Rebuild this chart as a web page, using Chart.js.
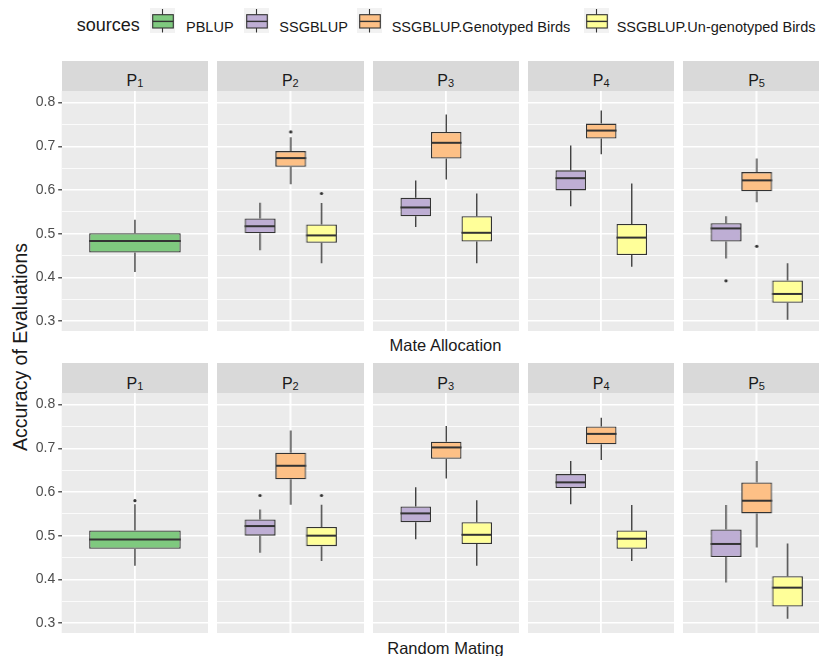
<!DOCTYPE html>
<html>
<head>
<meta charset="utf-8">
<script src="https://cdn.jsdelivr.net/npm/chart.js@4.4.1/dist/chart.umd.min.js"></script>
<style>
    body { margin: 0; width: 819px; height: 656px; overflow: hidden; background: #fff; position: relative;
           font-family: "Liberation Sans", Arial, sans-serif; color: #1a1a1a; }
    .panel { position: absolute; }
    .strip { position: absolute; background: #d9d9d9; }
    .strip span.lab { position: absolute; left: 0; right: 0; text-align: center; font-size: 16px; line-height: 16px; top: 12.5px; }
    .strip sub { font-size: 11px; vertical-align: baseline; position: relative; top: 1px; }
    .rowtitle { position: absolute; left: 0; width: 891px; text-align: center; font-size: 16.5px; line-height: 18px; }
    #ytitle { position: absolute; left: 20px; top: 347px; font-size: 19.5px; white-space: nowrap;
              transform: translate(-50%, -50%) rotate(-90deg); }
    .lg { position: absolute; white-space: nowrap; }
    .lg.txt { top: 16.5px; height: 20px; line-height: 20px; font-size: 14.5px; }
    .lg.key { top: 8.3px; }
</style>
</head>
<body>
<div class="lg" style="left:76.7px;top:15.3px;line-height:20px;font-size:18px">sources</div>
<div id="ytitle">Accuracy of Evaluations</div>
<div class="rowtitle" style="top:336px">Mate Allocation</div>
<div class="rowtitle" style="top:639px">Random Mating</div>
<script>
Chart.defaults.font.family = '"Liberation Sans", Arial, sans-serif';

const sources = ['PBLUP', 'SSGBLUP', 'SSGBLUP.Genotyped Birds', 'SSGBLUP.Un-genotyped Birds'];
const sourceColors = ['#7FC97F', '#BEAED4', '#FDC086', '#FFFF99'];
const panelNums = ['1', '2', '3', '4', '5'];
const rowNames = ['Mate Allocation', 'Random Mating'];
const yTicks = [0.3, 0.35, 0.4, 0.45, 0.5, 0.55, 0.6, 0.65, 0.7, 0.75, 0.8];
const yMin = 0.2765, yMax = 0.8266;

// [min, q1, median, q3, max] per panel P1..P5, null where the source is absent
const matePBLUP   = [[0.412, 0.457, 0.483, 0.501, 0.532], null, null, null, null];
const mateSSGBLUP = [null, [0.462, 0.501, 0.517, 0.535, 0.571], [0.515, 0.540, 0.560, 0.582, 0.622],
                     [0.563, 0.599, 0.627, 0.645, 0.702], [0.443, 0.482, 0.512, 0.524, 0.540]];
const mateGeno    = [null, [0.613, 0.653, 0.673, 0.689, 0.721], [0.624, 0.672, 0.708, 0.733, 0.773],
                     [0.682, 0.718, 0.736, 0.752, 0.782], [0.572, 0.597, 0.622, 0.641, 0.672]];
const mateUngeno  = [null, [0.432, 0.479, 0.496, 0.521, 0.570], [0.432, 0.482, 0.502, 0.540, 0.592],
                     [0.424, 0.451, 0.491, 0.522, 0.615], [0.303, 0.342, 0.362, 0.393, 0.432]];

const randPBLUP   = [[0.431, 0.470, 0.491, 0.512, 0.572], null, null, null, null];
const randSSGBLUP = [null, [0.461, 0.500, 0.522, 0.537, 0.560], [0.492, 0.531, 0.551, 0.567, 0.611],
                     [0.572, 0.609, 0.622, 0.641, 0.671], [0.393, 0.451, 0.481, 0.514, 0.570]];
const randGeno    = [null, [0.571, 0.629, 0.660, 0.690, 0.741], [0.631, 0.676, 0.702, 0.715, 0.751],
                     [0.673, 0.709, 0.733, 0.750, 0.770], [0.473, 0.551, 0.580, 0.622, 0.671]];
const randUngeno  = [null, [0.442, 0.476, 0.500, 0.520, 0.571], [0.431, 0.481, 0.502, 0.531, 0.581],
                     [0.442, 0.470, 0.493, 0.512, 0.570], [0.310, 0.338, 0.381, 0.407, 0.482]];

// outliers per panel
const mateOutPBLUP   = [[], [], [], [], []];
const mateOutSSGBLUP = [[], [], [], [], [0.392]];
const mateOutGeno    = [[], [0.733], [], [], [0.471]];
const mateOutUngeno  = [[], [0.592], [], [], []];
const randOutPBLUP   = [[0.580], [], [], [], []];
const randOutSSGBLUP = [[], [0.592], [], [], []];
const randOutGeno    = [[], [], [], [], []];
const randOutUngeno  = [[], [0.592], [], [], []];

const rowStats = [[matePBLUP, mateSSGBLUP, mateGeno, mateUngeno], [randPBLUP, randSSGBLUP, randGeno, randUngeno]];
const rowOuts = [[mateOutPBLUP, mateOutSSGBLUP, mateOutGeno, mateOutUngeno], [randOutPBLUP, randOutSSGBLUP, randOutGeno, randOutUngeno]];

// layout
const colLefts = [61.7, 217.1, 372.5, 527.9, 683.3];
const panelW = 146.5;
const stripTops = [60.7, 363.3];
const stripH = 30;
const plotTops = [90.7, 392.7];
const plotH = 240.3;

// legend
const keyLefts = [150, 244.3, 356.7, 583.5];
const labLefts = [186, 279.3, 391.7, 616.7];
sources.forEach(function (src, k) {
    const key = document.createElement('div');
    key.className = 'lg key';
    key.style.left = keyLefts[k] + 'px';
    key.innerHTML = '<svg width="25" height="25" style="display:block"><rect width="25" height="25" fill="#f2f2f2"/>' +
        '<line x1="12.5" y1="1" x2="12.5" y2="24.5" stroke="#333" stroke-width="1.1"/>' +
        '<rect x="2.7" y="6.7" width="20.6" height="13.3" fill="' + sourceColors[k] + '" stroke="#333" stroke-width="1.1"/>' +
        '<line x1="2.7" y1="13.4" x2="23.3" y2="13.4" stroke="#333" stroke-width="1.4"/></svg>';
    document.body.appendChild(key);
    const lab = document.createElement('div');
    lab.className = 'lg txt';
    lab.style.left = labLefts[k] + 'px';
    lab.textContent = src;
    document.body.appendChild(lab);
});

const panelBg = {
    id: 'panelBg',
    beforeDraw: function (chart) {
        const a = chart.chartArea, ctx = chart.ctx;
        ctx.save();
        ctx.fillStyle = '#ebebeb';
        ctx.fillRect(a.left, a.top, a.right - a.left, a.bottom - a.top);
        ctx.restore();
    }
};

// whiskers, medians and outliers on top of the floating bars
const boxParts = {
    id: 'boxParts',
    afterDatasetsDraw: function (chart) {
        const ctx = chart.ctx, y = chart.scales.y;
        ctx.save();
        ctx.strokeStyle = '#333';
        ctx.fillStyle = '#333';
        chart.data.datasets.forEach(function (ds, i) {
            const bar = chart.getDatasetMeta(i).data[0];
            const s = ds.stats;
            ctx.lineWidth = 1.3;
            ctx.beginPath();
            ctx.moveTo(bar.x, y.getPixelForValue(s[3]));
            ctx.lineTo(bar.x, y.getPixelForValue(s[4]));
            ctx.moveTo(bar.x, y.getPixelForValue(s[1]));
            ctx.lineTo(bar.x, y.getPixelForValue(s[0]));
            ctx.stroke();
            ctx.lineWidth = 2;
            ctx.beginPath();
            ctx.moveTo(bar.x - bar.width / 2, y.getPixelForValue(s[2]));
            ctx.lineTo(bar.x + bar.width / 2, y.getPixelForValue(s[2]));
            ctx.stroke();
            ds.outliers.forEach(function (o) {
                ctx.beginPath();
                ctx.arc(bar.x, y.getPixelForValue(o), 1.6, 0, Math.PI * 2);
                ctx.fill();
            });
        });
        ctx.restore();
    }
};

function isMajor(v) {
    return Math.abs(v * 10 - Math.round(v * 10)) < 1e-6;
}

function makePanel(row, col) {
    const strip = document.createElement('div');
    strip.className = 'strip';
    strip.style.cssText = 'left:' + colLefts[col] + 'px;top:' + stripTops[row] + 'px;width:' + panelW + 'px;height:' + stripH + 'px';
    strip.innerHTML = '<span class="lab">P<sub>' + panelNums[col] + '</sub></span>';
    document.body.appendChild(strip);

    const left = col === 0 ? 0 : colLefts[col];
    const width = col === 0 ? colLefts[0] + panelW : panelW;
    const wrap = document.createElement('div');
    wrap.className = 'panel';
    wrap.style.cssText = 'left:' + left + 'px;top:' + plotTops[row] + 'px;width:' + width + 'px;height:' + plotH + 'px';
    const cv = document.createElement('canvas');
    wrap.appendChild(cv);
    document.body.appendChild(wrap);

    const datasets = [];
    sources.forEach(function (src, k) {
        const s = rowStats[row][k][col];
        if (!s) return;
        datasets.push({
            label: src,
            data: [[s[1], s[3]]],
            stats: s,
            outliers: rowOuts[row][k][col],
            backgroundColor: sourceColors[k],
            borderColor: '#333',
            borderWidth: 1.3,
            borderSkipped: false,
            categoryPercentage: 0.625,
            barPercentage: 1
        });
    });

    new Chart(cv, {
        type: 'bar',
        data: { labels: [rowNames[row] + ' P' + panelNums[col]], datasets: datasets },
        options: {
            animation: false,
            responsive: true,
            maintainAspectRatio: false,
            layout: { padding: 0 },
            plugins: { legend: { display: false }, tooltip: { enabled: false } },
            scales: {
                x: {
                    offset: true,
                    grid: { offset: false, color: '#fff', lineWidth: 1.8, drawTicks: false },
                    border: { display: false },
                    ticks: { display: false },
                    afterFit: function (s) { s.height = 0; s.paddingLeft = 0; s.paddingRight = 0; }
                },
                y: {
                    min: yMin,
                    max: yMax,
                    afterBuildTicks: function (s) { s.ticks = yTicks.map(function (v) { return { value: v }; }); },
                    ticks: {
                        display: col === 0,
                        autoSkip: false,
                        color: '#4d4d4d',
                        font: { size: 14 },
                        padding: 3,
                        callback: function (v) { return isMajor(v) ? v.toFixed(1) : ''; }
                    },
                    grid: {
                        color: '#fff',
                        lineWidth: function (c) { return isMajor(c.tick.value) ? 1.6 : 0.8; },
                        drawTicks: col === 0,
                        tickLength: 3.5,
                        tickWidth: 1.2,
                        tickColor: function (c) { return isMajor(c.tick.value) ? '#333' : 'rgba(0,0,0,0)'; }
                    },
                    border: { display: false },
                    afterFit: function (s) { s.width = col === 0 ? colLefts[0] : 0; s.paddingTop = 0; s.paddingBottom = 0; }
                }
            }
        },
        plugins: [panelBg, boxParts]
    });
}

for (let r = 0; r < 2; r++) {
    for (let c = 0; c < 5; c++) makePanel(r, c);
}
</script>
</body>
</html>
